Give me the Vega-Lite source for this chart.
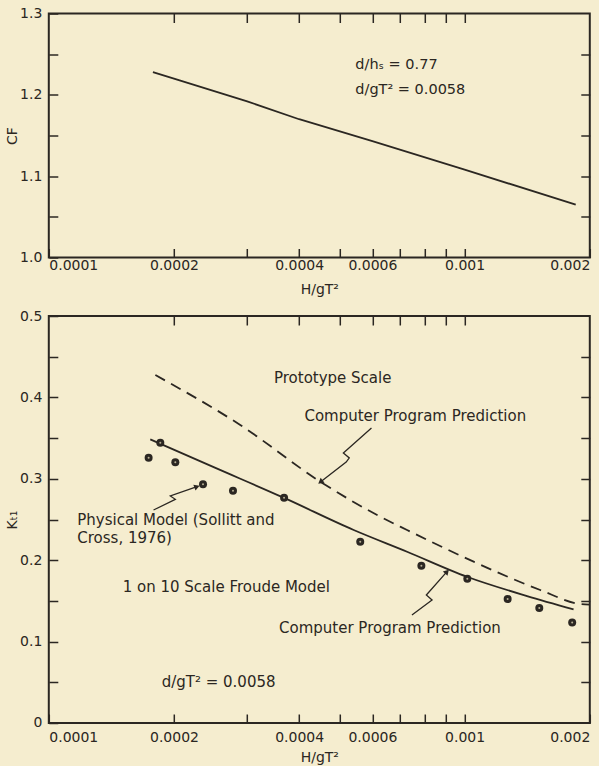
{
  "$schema": "https://vega.github.io/schema/vega-lite/v6.json",
  "background": "#f5edcf",
  "padding": {"left": 3.8, "top": 5.5, "right": 4, "bottom": 0},
  "spacing": 10.5,
  "config": {
    "view": {"stroke": "#2b2722", "strokeWidth": 2},
    "font": "DejaVu Sans",
    "axis": {
      "grid": false,
      "domain": false,
      "tickColor": "#2b2722",
      "tickWidth": 1.5,
      "tickSize": -9,
      "labelColor": "#2b2722",
      "labelFont": "DejaVu Sans",
      "labelFontSize": 14,
      "titleColor": "#2b2722",
      "titleFont": "DejaVu Sans",
      "titleFontSize": 14,
      "titleFontWeight": "normal",
      "labelOverlap": false
    },
    "text": {"font": "DejaVu Sans", "fontSize": 15, "color": "#2b2722"}
  },
  "datasets": {
    "cf": [
      {"h": 0.000178, "cf": 1.228},
      {"h": 0.0002, "cf": 1.22},
      {"h": 0.0003, "cf": 1.192},
      {"h": 0.0004, "cf": 1.17},
      {"h": 0.0006, "cf": 1.143},
      {"h": 0.001, "cf": 1.108},
      {"h": 0.00185, "cf": 1.065}
    ],
    "cfText": [
      {"h": 0.000546, "cf": 1.237, "t": "d/hₛ = 0.77"},
      {"h": 0.000546, "cf": 1.2063, "t": "d/gT² = 0.0058"}
    ],
    "proto": [
      {"h": 0.0001804, "k": 0.4275},
      {"h": 0.0002887, "k": 0.3661},
      {"h": 0.00045, "k": 0.2964},
      {"h": 0.000627, "k": 0.2534},
      {"h": 0.000727, "k": 0.2371},
      {"h": 0.001051, "k": 0.1982},
      {"h": 0.00152, "k": 0.1634},
      {"h": 0.001897, "k": 0.1462},
      {"h": 0.002, "k": 0.1455}
    ],
    "model": [
      {"h": 0.0001754, "k": 0.3485},
      {"h": 0.00025, "k": 0.314},
      {"h": 0.000367, "k": 0.2768},
      {"h": 0.000541, "k": 0.2371},
      {"h": 0.000727, "k": 0.2104},
      {"h": 0.001013, "k": 0.1797},
      {"h": 0.001413, "k": 0.156},
      {"h": 0.001828, "k": 0.1397}
    ],
    "obs": [
      {"h": 0.0001738, "k": 0.326},
      {"h": 0.0001854, "k": 0.3443},
      {"h": 0.0002015, "k": 0.3203},
      {"h": 0.0002349, "k": 0.2932},
      {"h": 0.0002773, "k": 0.2854},
      {"h": 0.000368, "k": 0.2768},
      {"h": 0.000561, "k": 0.2227},
      {"h": 0.000787, "k": 0.1932},
      {"h": 0.001015, "k": 0.1773},
      {"h": 0.001269, "k": 0.1523},
      {"h": 0.001512, "k": 0.1413},
      {"h": 0.001814, "k": 0.1235}
    ],
    "leaders": [
      {"g": "upper", "i": 0, "h": 0.000597, "k": 0.3624},
      {"g": "upper", "i": 1, "h": 0.000511, "k": 0.3317},
      {"g": "upper", "i": 2, "h": 0.000528, "k": 0.3256},
      {"g": "upper", "i": 3, "h": 0.000519, "k": 0.3206},
      {"g": "upper", "i": 4, "h": 0.00045, "k": 0.2961},
      {"g": "lower", "i": 0, "h": 0.000747, "k": 0.1327},
      {"g": "lower", "i": 1, "h": 0.000835, "k": 0.1511},
      {"g": "lower", "i": 2, "h": 0.000809, "k": 0.1572},
      {"g": "lower", "i": 3, "h": 0.000907, "k": 0.1859},
      {"g": "phys", "i": 0, "h": 0.0001786, "k": 0.2617},
      {"g": "phys", "i": 1, "h": 0.0002015, "k": 0.2748},
      {"g": "phys", "i": 2, "h": 0.000196, "k": 0.2789},
      {"g": "phys", "i": 3, "h": 0.0002272, "k": 0.2903}
    ],
    "tips": [
      {"g": "upper", "h": 0.00045, "k": 0.2961},
      {"g": "lower", "h": 0.000907, "k": 0.1859},
      {"g": "phys", "h": 0.0002272, "k": 0.2903}
    ],
    "ktText": [
      {"h": 0.000348, "k": 0.4235, "t": "Prototype Scale"},
      {"h": 0.000412, "k": 0.3771, "t": "Computer Program Prediction"},
      {"h": 0.0001171, "k": 0.249, "t": "Physical Model (Sollitt and"},
      {"h": 0.0001171, "k": 0.2269, "t": "Cross, 1976)"},
      {"h": 0.0001506, "k": 0.1675, "t": "1 on 10 Scale Froude Model"},
      {"h": 0.000358, "k": 0.1171, "t": "Computer Program Prediction"},
      {"h": 0.0001869, "k": 0.05, "t": "d/gT² = 0.0058"}
    ]
  },
  "vconcat": [
    {
      "width": 541,
      "height": 244,
      "resolve": {"axis": {"x": "independent", "y": "independent"}},
      "layer": [
        {
          "data": {"name": "cf"},
          "mark": {"type": "line", "color": "#2b2722", "strokeWidth": 1.8},
          "encoding": {
            "x": {"field": "h", "type": "quantitative",
              "scale": {"type": "log", "domain": [0.0001, 0.002], "nice": false},
              "axis": {"orient": "bottom", "title": "H/gT²", "titlePadding": 9.5, "labelPadding": 10,
                "values": [0.0001, 0.0002, 0.0003, 0.0004, 0.0005, 0.0006, 0.0007, 0.0008, 0.0009, 0.001, 0.002],
                "format": ".4~f",
                "labelExpr": "indexof(['0.0001','0.0002','0.0004','0.0006','0.001','0.002'], datum.label) >= 0 ? datum.label : ''"}},
            "y": {"field": "cf", "type": "quantitative",
              "scale": {"domain": [1.0, 1.3], "nice": false, "zero": false},
              "axis": {"orient": "left", "title": "CF", "titlePadding": 0, "labelPadding": 16,
                "values": [1.0, 1.05, 1.1, 1.15, 1.2, 1.25, 1.3],
                "format": ".1f",
                "labelExpr": "round(datum.value * 100) % 10 == 0 ? datum.label : ''"}}
          }
        },
        {
          "data": {"name": "cf"},
          "mark": {"type": "line", "opacity": 0},
          "encoding": {
            "x": {"field": "h", "type": "quantitative",
              "scale": {"type": "log", "domain": [0.0001, 0.002], "nice": false},
              "axis": {"orient": "top", "title": null, "labels": false,
                "values": [0.0002, 0.0003, 0.0004, 0.0005, 0.0006, 0.0007, 0.0008, 0.0009, 0.001]}},
            "y": {"field": "cf", "type": "quantitative",
              "scale": {"domain": [1.0, 1.3], "nice": false, "zero": false},
              "axis": {"orient": "right", "title": null, "labels": false,
                "values": [1.05, 1.1, 1.15, 1.2, 1.25]}}
          }
        },
        {
          "data": {"name": "cfText"},
          "mark": {"type": "text", "align": "left", "baseline": "middle", "fontSize": 14.5},
          "encoding": {
            "x": {"field": "h", "type": "quantitative", "axis": null},
            "y": {"field": "cf", "type": "quantitative", "axis": null},
            "text": {"field": "t"}
          }
        }
      ]
    },
    {
      "width": 541,
      "height": 407,
      "resolve": {"axis": {"x": "independent", "y": "independent"}},
      "layer": [
        {
          "data": {"name": "model"},
          "mark": {"type": "line", "color": "#2b2722", "strokeWidth": 1.8, "interpolate": "monotone"},
          "encoding": {
            "x": {"field": "h", "type": "quantitative",
              "scale": {"type": "log", "domain": [0.0001, 0.002], "nice": false},
              "axis": {"orient": "bottom", "title": "H/gT²", "titlePadding": 6, "labelPadding": 16.7,
                "values": [0.0001, 0.0002, 0.0003, 0.0004, 0.0005, 0.0006, 0.0007, 0.0008, 0.0009, 0.001, 0.002],
                "format": ".4~f",
                "labelExpr": "indexof(['0.0001','0.0002','0.0004','0.0006','0.001','0.002'], datum.label) >= 0 ? datum.label : ''"}},
            "y": {"field": "k", "type": "quantitative",
              "scale": {"domain": [0, 0.5], "nice": false},
              "axis": {"orient": "left", "title": "Kₜ₁", "titlePadding": 0, "labelPadding": 16,
                "values": [0, 0.05, 0.1, 0.15, 0.2, 0.25, 0.3, 0.35, 0.4, 0.45, 0.5],
                "format": ".1~f",
                "labelExpr": "round(datum.value * 100) % 10 == 0 ? datum.label : ''"}}
          }
        },
        {
          "data": {"name": "model"},
          "mark": {"type": "line", "opacity": 0},
          "encoding": {
            "x": {"field": "h", "type": "quantitative",
              "scale": {"type": "log", "domain": [0.0001, 0.002], "nice": false},
              "axis": {"orient": "top", "title": null, "labels": false,
                "values": [0.0002, 0.0003, 0.0004, 0.0005, 0.0006, 0.0007, 0.0008, 0.0009, 0.001]}},
            "y": {"field": "k", "type": "quantitative",
              "scale": {"domain": [0, 0.5], "nice": false},
              "axis": {"orient": "right", "title": null, "labels": false,
                "values": [0.05, 0.1, 0.15, 0.2, 0.25, 0.3, 0.35, 0.4, 0.45]}}
          }
        },
        {
          "data": {"name": "proto"},
          "mark": {"type": "line", "color": "#2b2722", "strokeWidth": 1.8, "strokeDash": [11, 7], "interpolate": "monotone"},
          "encoding": {
            "x": {"field": "h", "type": "quantitative", "axis": null},
            "y": {"field": "k", "type": "quantitative", "axis": null}
          }
        },
        {
          "data": {"name": "obs"},
          "mark": {"type": "point", "filled": true, "size": 64, "color": "#2b2722", "opacity": 1},
          "encoding": {
            "x": {"field": "h", "type": "quantitative", "axis": null},
            "y": {"field": "k", "type": "quantitative", "axis": null}
          }
        },
        {
          "data": {"name": "obs"},
          "mark": {"type": "point", "filled": true, "size": 4, "color": "#b8b095", "opacity": 1},
          "encoding": {
            "x": {"field": "h", "type": "quantitative", "axis": null},
            "y": {"field": "k", "type": "quantitative", "axis": null}
          }
        },
        {
          "data": {"name": "leaders"},
          "mark": {"type": "line", "color": "#2b2722", "strokeWidth": 1.3},
          "encoding": {
            "x": {"field": "h", "type": "quantitative", "axis": null},
            "y": {"field": "k", "type": "quantitative", "axis": null},
            "detail": {"field": "g"},
            "order": {"field": "i"}
          }
        },
        {
          "data": {"name": "tips"},
          "transform": [{"filter": "datum.g == 'upper'"}],
          "mark": {"type": "point", "shape": "triangle-up", "filled": true, "size": 40, "angle": 232, "color": "#2b2722", "opacity": 1},
          "encoding": {
            "x": {"field": "h", "type": "quantitative", "axis": null},
            "y": {"field": "k", "type": "quantitative", "axis": null}
          }
        },
        {
          "data": {"name": "tips"},
          "transform": [{"filter": "datum.g == 'lower'"}],
          "mark": {"type": "point", "shape": "triangle-up", "filled": true, "size": 40, "angle": 42, "color": "#2b2722", "opacity": 1},
          "encoding": {
            "x": {"field": "h", "type": "quantitative", "axis": null},
            "y": {"field": "k", "type": "quantitative", "axis": null}
          }
        },
        {
          "data": {"name": "tips"},
          "transform": [{"filter": "datum.g == 'phys'"}],
          "mark": {"type": "point", "shape": "triangle-up", "filled": true, "size": 40, "angle": 70, "color": "#2b2722", "opacity": 1},
          "encoding": {
            "x": {"field": "h", "type": "quantitative", "axis": null},
            "y": {"field": "k", "type": "quantitative", "axis": null}
          }
        },
        {
          "data": {"name": "ktText"},
          "mark": {"type": "text", "align": "left", "baseline": "middle"},
          "encoding": {
            "x": {"field": "h", "type": "quantitative", "axis": null},
            "y": {"field": "k", "type": "quantitative", "axis": null},
            "text": {"field": "t"}
          }
        }
      ]
    }
  ]
}
